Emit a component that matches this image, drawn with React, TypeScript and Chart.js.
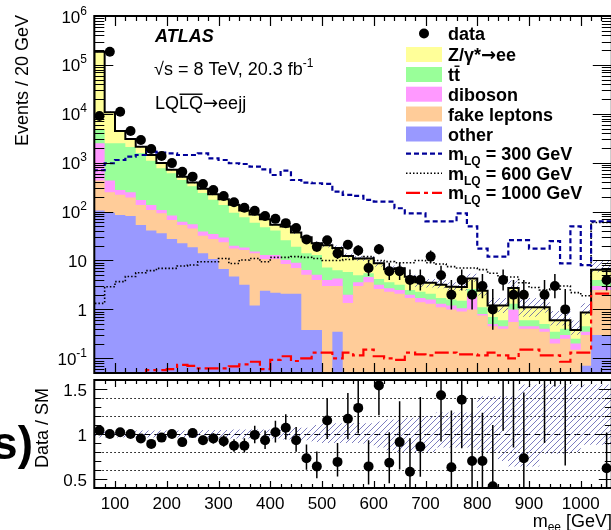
import React, { useEffect, useRef } from "react";
import { Chart, registerables } from "chart.js";

Chart.register(...registerables);

const FONT = '"Liberation Sans", Arial, Helvetica, sans-serif';
const ARROW_FONT = '"DejaVu Sans", "Liberation Sans", sans-serif';

// ---------------- data ----------------
const binLow = [60, 80, 100, 120, 140, 160, 180, 200, 220, 240, 260, 280, 300, 320, 340, 360, 380, 400, 420, 440, 460, 480, 500, 520, 540, 560, 580, 600, 620, 640, 660, 680, 700, 720, 740, 760, 780, 800, 820, 840, 860, 880, 900, 920, 940, 960, 980, 1000, 1020, 1040];
const BIN_W = 20;

const dataCounts = [9000, 186000, 11000, 4450, 2900, 1900, 1370, 980, 655, 518, 366, 277, 209, 155, 120, 104, 81, 71, 58, 46, 27, 19, 26, 14, 21, 16, 7, 17, 6, 6, 4, 4, 12, 5, 2, 4, 2, 3, 1, 4, 2, 2, 0, 2, 3, 1, 0, 0, 0, 4];

const bkgOther = [170, 105, 95, 85, 81, 53, 41, 36, 27.5, 22.5, 18.6, 14, 10.7, 6.7, 4.7, 3.2, 1.2, 2.4, 2.2, 2.1, 2.1, 0.38, 0.38, 0, 0.35, 0, 0, 0, 0, 0, 0, 0, 0, 0, 0, 0, 0, 0, 0, 0, 0, 0, 0, 0, 0, 0, 0, 0, 0.07, 0.3];
const bkgFake = [250, 325, 155, 135, 114, 84, 67, 56, 39.5, 30.5, 26.4, 18, 16.8, 16.9, 12.9, 13.2, 12.8, 8.3, 8.5, 6.4, 4.9, 4.7, 3.6, 3.0, 2.65, 1.35, 3.0, 3.6, 2.6, 2.3, 2.1, 1.7, 1.4, 1.3, 1.1, 1.0, 0.9, 1.0, 0.75, 0.45, 0.4, 0.55, 0.4, 0.4, 0.35, 0.2, 0.25, 0.15, 0.23, 2.2];
const bkgDiboson = [20, 2070, 180, 57, 55, 36, 29, 16, 16, 9, 10, 7, 7.5, 5.9, 2.4, 2.1, 1.2, 2.3, 2.3, 1.7, 2.0, 1.3, 1.1, 1.0, 1.3, 0.65, 0.6, 1.0, 0.6, 0.4, 0.4, 0.3, 0.3, 0.3, 0.2, 0.2, 0.15, 0.9, 0.05, 0.05, 0.05, 0.45, 0.05, 0.05, 0.05, 0.05, 0.05, 0.05, 0.05, 0.5];
const bkgTtbar = [4090, 2200, 2070, 2223, 1850, 1397, 963, 662, 527, 383, 275, 201, 140, 107.5, 75, 58.5, 43.8, 35, 28, 15.8, 10, 7.6, 7.9, 3.2, 2.0, 3.8, 1.4, 0.9, 1.0, 0.9, 0.7, 0.5, 0.6, 0.5, 0.4, 0.4, 0.45, 0.7, 0.3, 0.2, 0.15, 0.3, 0.15, 0.15, 0.1, 0.1, 0.1, 0.05, 0.1, 1.0];
const bkgZee = [4210, 181300, 8300, 1950, 950, 560, 330, 210, 110, 68, 64, 52, 52, 41, 43, 28, 28, 22, 13, 23.5, 18.5, 16, 9.6, 13.4, 11.7, 6.6, 6.0, 5.5, 4.6, 3.0, 3.7, 2.15, 1.3, 1.4, 1.5, 1.3, 1.36, 1.7, 1.3, 0.5, 0.6, 1.44, 0.5, 0.5, 0.6, 0.25, 0.2, 0.13, 0.41, 2.5];

const sigM300 = [655, 700, 973, 1135, 1330, 1435, 1680, 1600, 1550, 1435, 1435, 1550, 1230, 1135, 973, 940, 828, 730, 560, 686, 443, 390, 380, 368, 257, 220, 209, 173, 160, 160, 117, 92, 92, 63, 63, 63, 92, 50, 17.5, 12, 12, 26, 26, 17.5, 17.5, 25, 8.7, 50, 8, 63];
const sigM600 = [2.5, 1.33, 2.9, 3.7, 4.7, 5.6, 6.2, 6.9, 6.9, 7.7, 8.1, 9.4, 9.4, 11, 8.7, 10.2, 11, 9.4, 11.6, 11.6, 12, 11.6, 11, 10, 10, 10.5, 11, 12, 10, 9.5, 9, 9, 10, 9, 8.5, 7.5, 7, 7, 6.5, 5.5, 4.6, 4.6, 3.5, 2.8, 2.5, 2.6, 3, 2.2, 1.9, 60];
const sigM1000 = [0.01, 0.01, 0.01, 0.01, 0.01, 0.01, 0.057, 0.057, 0.06, 0.073, 0.07, 0.062, 0.062, 0.062, 0.068, 0.075, 0.085, 0.06, 0.093, 0.11, 0.088, 0.1, 0.13, 0.13, 0.1, 0.13, 0.115, 0.15, 0.11, 0.1, 0.093, 0.13, 0.12, 0.115, 0.13, 0.13, 0.12, 0.12, 0.115, 0.13, 0.115, 0.1, 0.15, 0.15, 0.115, 0.115, 0.085, 0.13, 0.13, 2.1];

const ratioValues = [1.04, 1.0, 1.02, 1.0, 0.95, 0.89, 0.96, 1.0, 0.91, 1.01, 0.93, 0.95, 0.92, 0.87, 0.87, 0.99, 0.93, 1.02, 1.07, 0.93, 0.73, 0.64, 1.15, 0.69, 1.17, 1.29, 0.64, 1.54, 0.68, 0.91, 0.58, 0.86, 3.3, 1.43, 0.63, 1.38, 0.7, 0.7, 0.42, 1.7, 1.7, 0.73, null, 1.8, 2.7, 1.7, null, null, null, 0.62];
// relative systematic uncertainty of the background (upper / lower side)
const systUp = [0.05, 0.04, 0.04, 0.04, 0.04, 0.04, 0.04, 0.04, 0.04, 0.04, 0.045, 0.045, 0.045, 0.045, 0.05, 0.05, 0.05, 0.05, 0.05, 0.06, 0.07, 0.07, 0.1, 0.12, 0.12, 0.12, 0.12, 0.12, 0.14, 0.16, 0.16, 0.18, 0.2, 0.2, 0.24, 0.24, 0.24, 0.24, 0.42, 0.42, 0.42, 0.42, 0.55, 0.55, 0.55, 0.55, 0.55, 0.55, 0.55, 0.55];
const systDown = [0.05, 0.04, 0.04, 0.04, 0.04, 0.04, 0.04, 0.04, 0.04, 0.04, 0.045, 0.045, 0.045, 0.045, 0.05, 0.05, 0.05, 0.05, 0.05, 0.06, 0.07, 0.07, 0.09, 0.1, 0.1, 0.1, 0.1, 0.12, 0.15, 0.18, 0.2, 0.2, 0.2, 0.2, 0.15, 0.15, 0.15, 0.15, 0.2, 0.2, 0.3, 0.36, 0.36, 0.36, 0.22, 0.22, 0.22, 0.2, 0.12, 0.12];

const xTickLabels = ["100", "200", "300", "400", "500", "600", "700", "800", "900", "1000"];
const yDecades = [-1, 0, 1, 2, 3, 4, 5, 6];
const ratioTickLabels = ["0.5", "1", "1.5"];

// colours
const C_Z = "#ffff99";
const C_TT = "#99ff99";
const C_DB = "#ff99ff";
const C_FAKE = "#ffcc99";
const C_OTHER = "#9999ff";
const C_S300 = "#000099";
const C_S600 = "#000000";
const C_S1000 = "#ff0000";

// ---------------- helpers ----------------
const N = binLow.length;
const X_MIN = 60;
const X_MAX = 1060;
const Y_MIN = 0.05;
const Y_MAX = 1e6;

function stepPts(vals: number[], floor = 1e-4) {
  const pts = vals.map((v, i) => ({ x: binLow[i], y: Math.max(v, floor) }));
  pts.push({ x: binLow[N - 1] + BIN_W, y: Math.max(vals[N - 1], floor) });
  return pts;
}
function addArr(a: number[], b: number[]) {
  return a.map((v, i) => v + b[i]);
}
const cumOther = bkgOther.slice();
const cumFake = addArr(cumOther, bkgFake);
const cumDib = addArr(cumFake, bkgDiboson);
const cumTt = addArr(cumDib, bkgTtbar);
const cumZ = addArr(cumTt, bkgZee);
const mcTotal = cumZ;

function poisson(n: number): [number, number] {
  const s = Math.sqrt(n + 0.25);
  return [Math.max(n - s + 0.5, 1e-4), n + s + 0.5];
}

type Part = { t: string; size: number; bold?: boolean; italic?: boolean; dy?: number; over?: boolean; family?: string };
function fnt(p: Part) {
  return `${p.italic ? "italic " : ""}${p.bold ? "bold " : ""}${p.size}px ${p.family || FONT}`;
}
function richWidth(ctx: CanvasRenderingContext2D, parts: Part[]) {
  let w = 0;
  for (const p of parts) {
    ctx.font = fnt(p);
    w += ctx.measureText(p.t).width;
  }
  return w;
}
function drawRich(ctx: CanvasRenderingContext2D, parts: Part[], x: number, y: number, align: "left" | "right" | "center" = "left", color = "#000") {
  const w = richWidth(ctx, parts);
  let cx = align === "left" ? x : align === "right" ? x - w : x - w / 2;
  ctx.fillStyle = color;
  ctx.textAlign = "left";
  ctx.textBaseline = "alphabetic";
  for (const p of parts) {
    ctx.font = fnt(p);
    const pw = ctx.measureText(p.t).width;
    ctx.fillText(p.t, cx, y + (p.dy || 0));
    if (p.over) ctx.fillRect(cx + 0.5, y + (p.dy || 0) - p.size * 0.86, pw - 1, 1.4);
    cx += pw;
  }
}

function hatchPattern(color: string) {
  const c = document.createElement("canvas");
  c.width = 6;
  c.height = 6;
  const g = c.getContext("2d")!;
  g.strokeStyle = color;
  g.lineWidth = 1;
  g.beginPath();
  g.moveTo(0, 6);
  g.lineTo(6, 0);
  g.moveTo(-1, 1);
  g.lineTo(1, -1);
  g.moveTo(5, 7);
  g.lineTo(7, 5);
  g.stroke();
  return g.createPattern(c, "repeat")!;
}

function stackDs(label: string, cum: number[], color: string, order: number) {
  return {
    label,
    data: stepPts(cum),
    stepped: "after" as const,
    fill: "start",
    backgroundColor: color,
    borderColor: "rgba(0,0,0,0)",
    borderWidth: 0,
    pointRadius: 0,
    order,
  };
}
function lineDs(label: string, vals: number[], color: string, width: number, dash: number[], order: number) {
  return {
    label,
    data: stepPts(vals),
    stepped: "after" as const,
    fill: false,
    borderColor: color,
    borderWidth: width,
    borderDash: dash,
    pointRadius: 0,
    order,
  };
}
function bandDs(label: string, vals: number[], fill: any, bg: any) {
  return {
    label,
    data: stepPts(vals),
    stepped: "after" as const,
    fill,
    backgroundColor: bg,
    borderColor: "rgba(0,0,0,0)",
    borderWidth: 0,
    pointRadius: 0,
    order: 5,
  };
}

// ---------------- plugins ----------------
function drawXTicks(ctx: CanvasRenderingContext2D, a: any, xs: any, major: number, minor: number) {
  ctx.strokeStyle = "#000";
  ctx.lineWidth = 1.2;
  for (let v = 80; v < X_MAX; v += 20) {
    const px = Math.round(xs.getPixelForValue(v)) + 0.5;
    const len = v % 100 === 0 ? major : minor;
    ctx.beginPath();
    ctx.moveTo(px, a.bottom);
    ctx.lineTo(px, a.bottom - len);
    ctx.moveTo(px, a.top);
    ctx.lineTo(px, a.top + len);
    ctx.stroke();
  }
}
function drawYTick(ctx: CanvasRenderingContext2D, a: any, py: number, len: number) {
  const p = Math.round(py) + 0.5;
  ctx.beginPath();
  ctx.moveTo(a.left, p);
  ctx.lineTo(a.left + len, p);
  ctx.moveTo(a.right, p);
  ctx.lineTo(a.right - len, p);
  ctx.stroke();
}

const mainDecor = {
  id: "mainDecor",
  afterDatasetsDraw(chart: any) {
    const { ctx, chartArea: a, scales } = chart;
    const xs = scales.x;
    const ys = scales.y;
    // data error bars
    ctx.save();
    ctx.beginPath();
    ctx.rect(a.left, a.top, a.right - a.left, a.bottom - a.top);
    ctx.clip();
    ctx.strokeStyle = "#000";
    ctx.lineWidth = 1.5;
    dataCounts.forEach((n, i) => {
      if (n <= 0) return;
      const [lo, hi] = poisson(n);
      const px = xs.getPixelForValue(binLow[i] + BIN_W / 2);
      ctx.beginPath();
      ctx.moveTo(px, ys.getPixelForValue(lo));
      ctx.lineTo(px, ys.getPixelForValue(hi));
      ctx.stroke();
    });
    ctx.restore();

    // frame
    ctx.save();
    ctx.strokeStyle = "#000";
    ctx.lineWidth = 2;
    ctx.strokeRect(a.left, a.top, a.right - a.left, a.bottom - a.top);
    drawXTicks(ctx, a, xs, 10, 5);
    ctx.lineWidth = 1.2;
    for (let k = -2; k <= 5; k++) {
      for (let m = 2; m <= 9; m++) {
        const v = m * Math.pow(10, k);
        if (v <= Y_MIN || v >= Y_MAX) continue;
        drawYTick(ctx, a, ys.getPixelForValue(v), 10);
      }
    }
    yDecades.forEach((k) => drawYTick(ctx, a, ys.getPixelForValue(Math.pow(10, k)), 19));

    // y labels
    yDecades.forEach((k) => {
      const py = ys.getPixelForValue(Math.pow(10, k));
      const base = py + 6.5;
      if (k === 0) drawRich(ctx, [{ t: "1", size: 17 }], 87, base, "right");
      else if (k === 1) drawRich(ctx, [{ t: "10", size: 17 }], 87, base, "right");
      else drawRich(ctx, [{ t: "10", size: 17 }, { t: String(k), size: 12, dy: -8 }], 87, base, "right");
    });

    // y title
    ctx.save();
    ctx.translate(28, 15);
    ctx.rotate(-Math.PI / 2);
    drawRich(ctx, [{ t: "Events / 20 GeV", size: 18 }], 0, 0, "right");
    ctx.restore();

    // ATLAS labels
    drawRich(ctx, [{ t: "ATLAS", size: 18, bold: true, italic: true }], 155, 42);
    drawRich(ctx, [{ t: "\u221As = 8 TeV, 20.3 fb", size: 18 }, { t: "-1", size: 12, dy: -8 }], 154, 75);
    drawRich(ctx, [{ t: "LQ", size: 18 }, { t: "LQ", size: 18, over: true }, { t: "\u2192", size: 18, family: ARROW_FONT }, { t: "eejj", size: 18 }], 155, 109);

    // legend
    const lx0 = 406;
    const lx1 = 442;
    const tx = 448;
    const rows = [33.5, 54.5, 74.5, 94.2, 114, 134, 153.6, 173.2, 192.8];
    ctx.fillStyle = "#000";
    ctx.beginPath();
    ctx.arc(424, rows[0], 5, 0, Math.PI * 2);
    ctx.fill();
    const boxes: [string, number][] = [[C_Z, 1], [C_TT, 2], [C_DB, 3], [C_FAKE, 4], [C_OTHER, 5]];
    boxes.forEach(([c, r]) => {
      ctx.fillStyle = c;
      ctx.fillRect(lx0, rows[r] - 7.5, lx1 - lx0, 15);
    });
    const lines: [string, number[], number, number][] = [
      [C_S300, [5, 3], 2.2, 6],
      [C_S600, [1.5, 2], 1.5, 7],
      [C_S1000, [14, 4, 4, 4], 2.2, 8],
    ];
    lines.forEach(([c, d, w, r]) => {
      ctx.strokeStyle = c;
      ctx.lineWidth = w;
      ctx.setLineDash(d);
      ctx.beginPath();
      ctx.moveTo(lx0, rows[r]);
      ctx.lineTo(lx1, rows[r]);
      ctx.stroke();
    });
    ctx.setLineDash([]);
    const L = 18;
    const off = 6.5;
    drawRich(ctx, [{ t: "data", size: L, bold: true }], tx, rows[0] + off);
    drawRich(ctx, [{ t: "Z/\u03B3*", size: L, bold: true }, { t: "\u2192", size: L, bold: true, family: ARROW_FONT }, { t: "ee", size: L, bold: true }], tx, rows[1] + off);
    drawRich(ctx, [{ t: "t", size: L, bold: true }, { t: "t", size: L, bold: true, over: true }], tx, rows[2] + off);
    drawRich(ctx, [{ t: "diboson", size: L, bold: true }], tx, rows[3] + off);
    drawRich(ctx, [{ t: "fake leptons", size: L, bold: true }], tx, rows[4] + off);
    drawRich(ctx, [{ t: "other", size: L, bold: true }], tx, rows[5] + off);
    const sigLbl = (m: string, r: number) =>
      drawRich(ctx, [{ t: "m", size: L, bold: true }, { t: "LQ", size: 12, bold: true, dy: 5 }, { t: ` = ${m} GeV`, size: L, bold: true }], tx, rows[r] + off);
    sigLbl("300", 6);
    sigLbl("600", 7);
    sigLbl("1000", 8);
    ctx.restore();
  },
};

const ratioDecor = {
  id: "ratioDecor",
  beforeDatasetsDraw(chart: any) {
    const { ctx, chartArea: a, scales } = chart;
    const ys = scales.y;
    ctx.save();
    ctx.strokeStyle = "#000";
    ctx.lineWidth = 1;
    [0.6, 0.8, 1.2, 1.4].forEach((v) => {
      ctx.setLineDash([1.5, 2.5]);
      const py = Math.round(ys.getPixelForValue(v)) + 0.5;
      ctx.beginPath();
      ctx.moveTo(a.left, py);
      ctx.lineTo(a.right, py);
      ctx.stroke();
    });
    ctx.setLineDash([6, 4]);
    const p1 = Math.round(ys.getPixelForValue(1)) + 0.5;
    ctx.beginPath();
    ctx.moveTo(a.left, p1);
    ctx.lineTo(a.right, p1);
    ctx.stroke();
    ctx.restore();
  },
  afterDatasetsDraw(chart: any) {
    const { ctx, chartArea: a, scales } = chart;
    const xs = scales.x;
    const ys = scales.y;
    ctx.save();
    ctx.beginPath();
    ctx.rect(a.left, a.top, a.right - a.left, a.bottom - a.top);
    ctx.clip();
    ctx.strokeStyle = "#000";
    ctx.lineWidth = 1.5;
    ratioValues.forEach((r, i) => {
      const n = dataCounts[i];
      if (r === null || n <= 0) return;
      const [lo, hi] = poisson(n);
      const px = xs.getPixelForValue(binLow[i] + BIN_W / 2);
      ctx.beginPath();
      ctx.moveTo(px, ys.getPixelForValue((r * lo) / n));
      ctx.lineTo(px, ys.getPixelForValue((r * hi) / n));
      ctx.stroke();
    });
    ctx.restore();

    ctx.save();
    ctx.strokeStyle = "#000";
    ctx.lineWidth = 2;
    ctx.strokeRect(a.left, a.top, a.right - a.left, a.bottom - a.top);
    drawXTicks(ctx, a, xs, 7, 4);
    ctx.lineWidth = 1.2;
    for (let i = 5; i <= 15; i++) {
      const v = i / 10;
      drawYTick(ctx, a, ys.getPixelForValue(v), i % 5 === 0 ? 13 : 7);
    }
    [0.5, 1, 1.5].forEach((v, i) => {
      drawRich(ctx, [{ t: ratioTickLabels[i], size: 17 }], 87, ys.getPixelForValue(v) + 6.5, "right");
    });
    xTickLabels.forEach((t) => {
      drawRich(ctx, [{ t, size: 17 }], xs.getPixelForValue(Number(t)), a.bottom + 21, "center");
    });
    drawRich(ctx, [{ t: "m", size: 18 }, { t: "ee", size: 12, dy: 4 }, { t: " [GeV]", size: 18 }], 612, 152, "right");

    ctx.save();
    ctx.translate(47.5, 13);
    ctx.rotate(-Math.PI / 2);
    drawRich(ctx, [{ t: "Data / SM", size: 18 }], 0, 0, "right");
    ctx.restore();

    drawRich(ctx, [{ t: "s)", size: 46, bold: true }], 33, 84, "right");
    ctx.restore();
  },
};

// ---------------- component ----------------
export default function App() {
  const mainRef = useRef<HTMLCanvasElement>(null);
  const ratioRef = useRef<HTMLCanvasElement>(null);

  useEffect(() => {
    const hatch = hatchPattern("rgba(70,70,165,0.7)");
    const bandUp = mcTotal.map((v, i) => v * (1 + systUp[i]));
    const bandLo = mcTotal.map((v, i) => v * (1 - systDown[i]));

    const mainChart = new Chart(mainRef.current!, {
      type: "line",
      data: {
        datasets: [
          {
            label: "data",
            data: dataCounts.map((n, i) => ({ x: binLow[i] + BIN_W / 2, y: n > 0 ? n : null })) as any,
            showLine: false,
            pointRadius: 5,
            pointBackgroundColor: "#000",
            pointBorderWidth: 0,
            order: 0,
          } as any,
          lineDs("m300", sigM300, C_S300, 2.2, [5, 3], 1),
          lineDs("m600", sigM600, C_S600, 1.6, [1.5, 2], 2),
          lineDs("m1000", sigM1000, C_S1000, 2.2, [14, 4, 4, 4], 3),
          lineDs("total", mcTotal, "#000", 2, [], 4),
          bandDs("bandUp", bandUp, "+1", hatch),
          bandDs("bandLo", bandLo, false, "rgba(0,0,0,0)"),
          stackDs("other", cumOther, C_OTHER, 6),
          stackDs("fake", cumFake, C_FAKE, 7),
          stackDs("diboson", cumDib, C_DB, 8),
          stackDs("ttbar", cumTt, C_TT, 9),
          stackDs("zee", cumZ, C_Z, 10),
        ] as any,
      },
      options: {
        animation: false,
        responsive: false,
        maintainAspectRatio: false,
        layout: { padding: { left: 94.3, top: 16, right: 640 - 611.8, bottom: 380 - 373 } },
        scales: {
          x: { type: "linear", min: X_MIN, max: X_MAX, display: false },
          y: { type: "logarithmic", min: Y_MIN, max: Y_MAX, display: false },
        },
        plugins: { legend: { display: false }, tooltip: { enabled: false } },
        events: [],
      },
      plugins: [mainDecor],
    } as any);

    const ratioBandUp = systUp.map((u) => 1 + u);
    const ratioBandLo = systDown.map((u) => 1 - u);
    const ratioChart = new Chart(ratioRef.current!, {
      type: "line",
      data: {
        datasets: [
          {
            label: "ratio",
            data: ratioValues.map((r, i) => ({ x: binLow[i] + BIN_W / 2, y: r !== null && r <= 1.6 && r >= 0.4 ? r : null })) as any,
            showLine: false,
            pointRadius: 5,
            pointBackgroundColor: "#000",
            pointBorderWidth: 0,
            order: 0,
          } as any,
          bandDs("rbandUp", ratioBandUp, "+1", hatch),
          bandDs("rbandLo", ratioBandLo, false, "rgba(0,0,0,0)"),
        ] as any,
      },
      options: {
        animation: false,
        responsive: false,
        maintainAspectRatio: false,
        layout: { padding: { left: 94.3, top: 5, right: 640 - 611.8, bottom: 155 - 113 } },
        scales: {
          x: { type: "linear", min: X_MIN, max: X_MAX, display: false },
          y: { type: "linear", min: 0.4, max: 1.6, display: false },
        },
        plugins: { legend: { display: false }, tooltip: { enabled: false } },
        events: [],
      },
      plugins: [ratioDecor],
    } as any);

    return () => {
      mainChart.destroy();
      ratioChart.destroy();
    };
  }, []);

  return (
    <div style={{ position: "fixed", left: 0, top: 0, width: 611, height: 530, overflow: "hidden", background: "#fff" }}>
      <canvas ref={mainRef} width={640} height={380} style={{ position: "absolute", left: 0, top: 0, width: 640, height: 380 }} />
      <canvas ref={ratioRef} width={640} height={155} style={{ position: "absolute", left: 0, top: 375, width: 640, height: 155 }} />
    </div>
  );
}
